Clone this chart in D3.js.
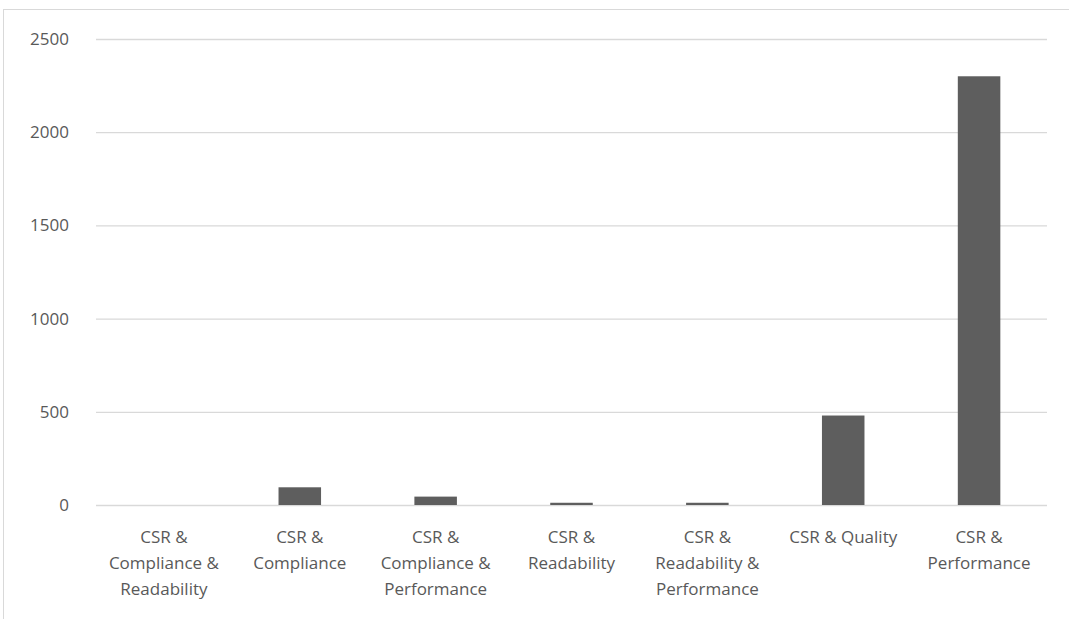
<!DOCTYPE html>
<html>
<head>
<meta charset="utf-8">
<script src="https://cdn.jsdelivr.net/npm/d3@7"></script>
<style>
	body { margin: 0; background: #fff; }
	svg { display: block; font-family: "Open Sans", sans-serif; }
</style>
</head>
<body>
<div id="chart"></div>
<script>
	// values
	var categories = [
		"CSR & Compliance & Readability",
		"CSR & Compliance",
		"CSR & Compliance & Performance",
		"CSR & Readability",
		"CSR & Readability & Performance",
		"CSR & Quality",
		"CSR & Performance"
	];
	var values = [0, 95, 45, 12, 12, 480, 2300];
	var yTicks = [0, 500, 1000, 1500, 2000, 2500];

	var width = 1069,
		height = 619,
		margin = { top: 39, right: 22, bottom: 114, left: 96 };

	var data = categories.map((c, i) => ({ category: c, value: values[i] }));

	var svg = d3.select("#chart")
		.append("svg")
		.attr("width", width)
		.attr("height", height);

	// outer chart frame (runs off the right and bottom edge)
	svg.append("rect")
		.attr("x", 3.5)
		.attr("y", 9.5)
		.attr("width", width + 20)
		.attr("height", height + 20)
		.attr("fill", "none")
		.attr("stroke", "#d9d9d9");

	var x = d3.scaleBand()
		.domain(categories)
		.range([margin.left, width - margin.right])
		.paddingInner(0.687)
		.paddingOuter(0.3435);

	var y = d3.scaleLinear()
		.domain([0, 2500])
		.range([height - margin.bottom, margin.top]);

	var yAxis = d3.axisLeft(y)
		.tickValues(yTicks)
		.tickFormat(d3.format("d"))
		.tickSize(-(width - margin.left - margin.right))
		.tickPadding(27);

	svg.append("g")
		.attr("class", "yAxis")
		.attr("transform", `translate(${margin.left},0)`)
		.call(yAxis)
		.call(g => g.select(".domain").remove())
		.call(g => g.selectAll(".tick line").attr("stroke", "#d9d9d9").attr("stroke-width", 1.3))
		.call(g => g.selectAll(".tick text")
			.attr("fill", "#595959")
			.style("font-size", "17px")
			.style("font-family", "'Open Sans', sans-serif"));

	svg.selectAll(".bar")
		.data(data)
		.enter()
		.append("rect")
		.attr("class", "bar")
		.attr("x", d => x(d.category))
		.attr("width", x.bandwidth())
		.attr("y", d => y(d.value))
		.attr("height", d => y(0) - y(d.value))
		.attr("fill", "#5e5e5e");

	var xAxis = d3.axisBottom(x)
		.tickSize(0)
		.tickPadding(26);

	svg.append("g")
		.attr("class", "xAxis")
		.attr("transform", `translate(0,${y(0)})`)
		.call(xAxis)
		.call(g => g.select(".domain").remove())
		.call(g => g.selectAll(".tick text")
			.attr("fill", "#595959")
			.style("font-size", "17px")
			.style("font-family", "'Open Sans', sans-serif")
			.call(wrap, x.step() - 12));

	function wrap(text, maxWidth) {
		text.each(function() {
			var text = d3.select(this),
				words = text.text().split(/\s+/).reverse(),
				word,
				line = [],
				lineNumber = 0,
				lineHeight = 26,
				yy = +text.attr("y"),
				tspan = text.attr("dy", null).text(null)
					.append("tspan").attr("x", 0).attr("y", yy).attr("dy", "0.71em");
			while (word = words.pop()) {
				line.push(word);
				tspan.text(line.join(" "));
				if (tspan.node().getComputedTextLength() > maxWidth && line.length > 1) {
					line.pop();
					tspan.text(line.join(" "));
					line = [word];
					tspan = text.append("tspan")
						.attr("x", 0)
						.attr("y", yy + (++lineNumber) * lineHeight)
						.attr("dy", "0.71em")
						.text(word);
				}
			}
		});
	}
</script>
</body>
</html>
